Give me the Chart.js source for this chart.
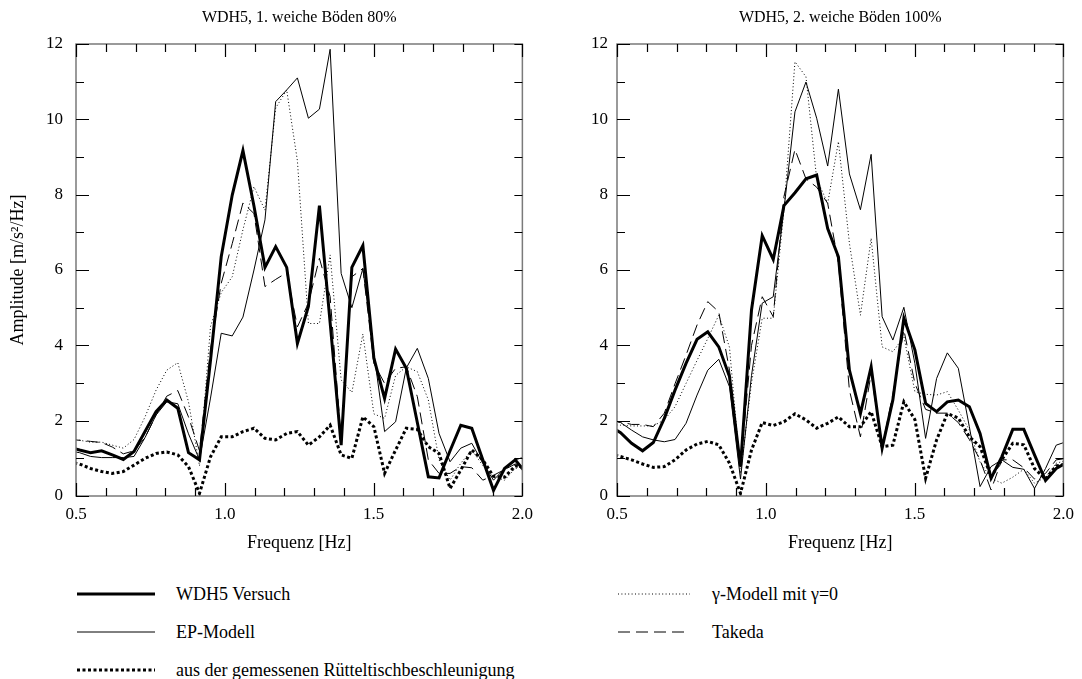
<!DOCTYPE html>
<html lang="de">
<head>
<meta charset="utf-8">
<title>WDH5 Amplitudenspektren</title>
<script src="https://cdn.jsdelivr.net/npm/chart.js@4.4.1/dist/chart.umd.min.js"></script>
<style>
  html, body { margin: 0; padding: 0; background: #fff; }
  body { width: 1082px; height: 679px; position: relative; overflow: hidden;
         font-family: 'Liberation Serif', 'DejaVu Serif', serif; color: #000; }
  canvas { position: absolute; top: 0; }
  #chartLeft { left: 0; }
  #chartRight { left: 541px; }
  .key { position: absolute; height: 20px; display: flex; align-items: center; font-size: 18px; white-space: nowrap; }
  .key svg { display: block; }
</style>
</head>
<body>
<canvas id="chartLeft" width="541" height="556"></canvas>
<canvas id="chartRight" width="541" height="556"></canvas>
<div id="legend"></div>
<script>
// Frequency bins [Hz] of the spectra
const freq = [0.476, 0.512, 0.549, 0.586, 0.622, 0.659, 0.695, 0.732, 0.769, 0.805,
  0.842, 0.878, 0.915, 0.952, 0.988, 1.025, 1.061, 1.098, 1.135, 1.171,
  1.208, 1.244, 1.281, 1.318, 1.354, 1.391, 1.427, 1.464, 1.501, 1.537,
  1.574, 1.610, 1.647, 1.684, 1.720, 1.757, 1.793, 1.830, 1.867, 1.903,
  1.940, 1.976, 2.013];

// 1. weiche Böden 80%
const versuch80 = [1.30, 1.22, 1.15, 1.20, 1.09, 0.97, 1.18, 1.71, 2.24, 2.55,
  2.33, 1.15, 0.96, 3.60, 6.35, 7.99, 9.17, 7.70, 6.07, 6.62,
  6.07, 4.05, 5.03, 7.71, 4.60, 1.35, 6.07, 6.65, 3.66, 2.59,
  3.90, 3.39, 1.95, 0.51, 0.48, 1.20, 1.88, 1.80, 0.96, 0.15,
  0.73, 0.96, 0.60];
const ep80 = [1.20, 1.15, 1.05, 1.02, 1.02, 1.02, 1.05, 1.55, 2.15, 2.50,
  2.45, 1.65, 0.96, 2.60, 4.32, 4.25, 4.75, 6.00, 7.33, 10.47,
  10.78, 11.10, 10.03, 10.27, 11.86, 5.91, 5.00, 6.04, 3.80, 1.71,
  1.97, 3.40, 3.92, 3.12, 1.66, 0.91, 1.27, 1.40, 0.87, 0.42,
  0.73, 0.96, 1.05];
const gamma80 = [1.52, 1.48, 1.43, 1.43, 1.35, 1.27, 1.50, 2.10, 2.81, 3.34,
  3.54, 2.50, 0.80, 4.50, 5.40, 5.82, 7.07, 8.21, 7.59, 10.30,
  10.78, 8.90, 4.58, 4.58, 6.40, 3.08, 2.75, 4.30, 2.18, 2.06,
  3.20, 3.43, 3.30, 2.55, 0.96, 0.42, 0.87, 1.22, 0.81, 0.52,
  0.42, 0.73, 0.80];
const takeda80 = [1.50, 1.48, 1.45, 1.42, 1.30, 1.12, 1.20, 1.55, 2.15, 2.65,
  2.80, 2.10, 1.20, 3.90, 5.65, 6.70, 7.78, 7.50, 5.56, 5.75,
  5.93, 4.49, 5.12, 6.31, 5.29, 1.49, 5.82, 6.04, 3.52, 2.99,
  3.39, 3.43, 2.64, 0.96, 0.60, 0.60, 0.78, 0.75, 0.42, 0.55,
  0.70, 0.85, 0.80];
const tisch80 = [0.90, 0.85, 0.73, 0.65, 0.60, 0.65, 0.82, 1.00, 1.13, 1.17,
  1.09, 0.78, 0.07, 1.04, 1.57, 1.57, 1.71, 1.80, 1.53, 1.49,
  1.66, 1.71, 1.35, 1.57, 1.88, 1.09, 1.00, 2.10, 1.84, 0.60,
  1.22, 1.80, 1.77, 1.31, 1.13, 0.20, 0.69, 1.22, 0.96, 0.52,
  0.50, 0.80, 0.75];

// 2. weiche Böden 100%
const versuch100 = [1.85, 1.68, 1.40, 1.20, 1.42, 2.06, 2.81, 3.52, 4.16, 4.36,
  3.96, 3.17, 0.78, 4.94, 6.91, 6.28, 7.71, 8.05, 8.42, 8.52,
  7.10, 6.35, 3.34, 2.19, 3.43, 1.27, 2.55, 4.72, 3.88, 2.46,
  2.24, 2.50, 2.55, 2.37, 1.66, 0.47, 1.04, 1.77, 1.77, 1.09,
  0.41, 0.73, 0.90];
const ep100 = [2.00, 1.95, 1.75, 1.57, 1.49, 1.44, 1.50, 1.93, 2.68, 3.34,
  3.63, 2.90, 0.45, 3.20, 5.12, 5.29, 7.60, 10.20, 10.99, 10.03,
  8.76, 10.80, 8.55, 7.60, 9.07, 4.76, 4.14, 5.01, 3.52, 1.53,
  3.12, 3.80, 3.39, 1.84, 0.25, 0.78, 0.96, 0.76, 0.71, 0.20,
  0.73, 1.35, 1.45];
const gamma100 = [1.90, 1.88, 1.86, 1.86, 1.86, 2.02, 2.37, 2.99, 3.60, 4.18,
  4.80, 3.95, 0.60, 3.00, 4.72, 4.72, 7.59, 11.53, 11.13, 8.42,
  7.77, 9.41, 6.71, 4.80, 6.84, 3.96, 3.83, 4.23, 2.77, 2.70,
  2.68, 2.77, 2.28, 1.75, 0.90, 0.47, 0.34, 0.50, 0.71, 0.34,
  0.50, 0.87, 0.95];
const takeda100 = [2.00, 1.97, 1.90, 1.90, 1.84, 2.20, 2.98, 3.74, 4.54, 5.16,
  4.89, 3.34, 0.78, 4.00, 5.29, 4.76, 7.95, 9.20, 8.42, 8.20,
  7.77, 6.18, 2.81, 1.57, 3.25, 1.30, 2.70, 4.41, 2.99, 2.30,
  2.20, 2.20, 1.95, 1.50, 0.96, 0.16, 0.96, 0.96, 0.75, 0.45,
  0.60, 0.96, 1.00];
const tisch100 = [1.12, 1.05, 0.96, 0.85, 0.76, 0.78, 0.96, 1.22, 1.38, 1.45,
  1.36, 0.87, 0.07, 1.22, 1.95, 1.87, 1.97, 2.18, 2.02, 1.80,
  1.93, 2.10, 1.84, 1.84, 2.24, 1.31, 1.35, 2.50, 2.03, 0.47,
  1.49, 2.19, 2.07, 1.57, 1.31, 0.51, 0.96, 1.40, 1.36, 0.73,
  0.45, 0.80, 0.85];

// axis ticks
const xLabelTicks = [0.5, 1.0, 1.5, 2.0];
const xTickMarks = [0.5, 0.6, 0.7, 0.8, 0.9, 1.0, 1.1, 1.2, 1.3, 1.4, 1.5, 1.6, 1.7, 1.8, 1.9, 2.0];
const yTickMarks = [0, 1, 2, 3, 4, 5, 6, 7, 8, 9, 10, 11, 12];

const serif = "'Liberation Serif', 'DejaVu Serif', serif";

const styles = {
  versuch: { label: 'WDH5 Versuch', width: 3, dash: [] },
  ep: { label: 'EP-Modell', width: 1, dash: [] },
  tisch: { label: 'aus der gemessenen Rütteltischbeschleunigung', width: 3, dash: [3, 2.5] },
  gamma: { label: 'γ-Modell mit γ=0', width: 1, dash: [1, 2.4] },
  takeda: { label: 'Takeda', width: 1, dash: [12, 6] },
};

// box with inward ticks on all four sides
const frameTicks = {
  id: 'frameTicks',
  afterDraw(chart) {
    const { ctx, chartArea: a, scales: { x, y } } = chart;
    ctx.save();
    ctx.lineWidth = 1.5;
    ctx.strokeStyle = '#7a7a7a';
    ctx.strokeRect(a.left, a.top, a.right - a.left, a.bottom - a.top);
    ctx.lineWidth = 1.2;
    ctx.strokeStyle = '#000';
    ctx.beginPath();
    xTickMarks.forEach((v) => {
      const px = Math.round(x.getPixelForValue(v)) + 0.5;
      const len = xLabelTicks.includes(v) ? 13 : 8;
      ctx.moveTo(px, a.top);
      ctx.lineTo(px, a.top + len);
      ctx.moveTo(px, a.bottom);
      ctx.lineTo(px, a.bottom - len);
    });
    yTickMarks.forEach((v) => {
      const py = Math.round(y.getPixelForValue(v)) + 0.5;
      const len = v % 2 === 0 ? 13 : 8;
      ctx.moveTo(a.left, py);
      ctx.lineTo(a.left + len, py);
      ctx.moveTo(a.right, py);
      ctx.lineTo(a.right - 8, py);
    });
    ctx.stroke();
    ctx.restore();
  },
};

function toPoints(values) {
  return freq.map((f, i) => ({ x: f, y: values[i] }));
}

function makeDataset(key, values) {
  const s = styles[key];
  return {
    label: s.label,
    data: toPoints(values),
    borderColor: '#000',
    borderWidth: s.width,
    borderDash: s.dash,
    borderCapStyle: 'butt',
    borderJoinStyle: 'miter',
    pointRadius: 0,
    tension: 0,
    fill: false,
  };
}

function renderPanel(canvasId, title, sets, showYTitle, yTickPad) {
  const ctx = document.getElementById(canvasId).getContext('2d');
  return new Chart(ctx, {
    type: 'line',
    data: {
      datasets: [
        makeDataset('versuch', sets.versuch),
        makeDataset('ep', sets.ep),
        makeDataset('gamma', sets.gamma),
        makeDataset('takeda', sets.takeda),
        makeDataset('tisch', sets.tisch),
      ],
    },
    options: {
      responsive: false,
      animation: false,
      events: [],
      devicePixelRatio: 1,
      layout: { padding: { top: 0, right: 11, bottom: 0, left: 0 } },
      plugins: {
        legend: { display: false },
        tooltip: { enabled: false },
        title: {
          display: true,
          text: title,
          fullSize: false,
          color: '#000',
          font: { family: serif, size: 16, weight: 'normal' },
          padding: { top: 8.4, bottom: 16.4 },
        },
      },
      scales: {
        x: {
          type: 'linear',
          min: 0.5,
          max: 2.0,
          grid: { display: false, drawTicks: false },
          border: { display: false },
          ticks: {
            stepSize: 0.5,
            autoSkip: false,
            maxRotation: 0,
            padding: 8,
            color: '#000',
            font: { family: serif, size: 17 },
            callback: (v) => Number(v).toFixed(1),
          },
          title: {
            display: true,
            text: 'Frequenz [Hz]',
            color: '#000',
            font: { family: serif, size: 18 },
            padding: { top: 0, bottom: 2 },
          },
          afterFit: (scale) => { scale.height = 60; },
        },
        y: {
          min: 0,
          max: 12,
          grid: { display: false, drawTicks: false },
          border: { display: false },
          ticks: {
            stepSize: 2,
            padding: yTickPad,
            color: '#000',
            font: { family: serif, size: 17 },
          },
          title: {
            display: showYTitle,
            text: 'Amplitude [m/s²/Hz]',
            color: '#000',
            font: { family: serif, size: 18 },
            padding: { top: 7, bottom: 0 },
          },
          afterFit: (scale) => { scale.width = 76; },
        },
      },
    },
    plugins: [frameTicks],
  });
}

function lineSample(style, length) {
  const ns = 'http://www.w3.org/2000/svg';
  const svg = document.createElementNS(ns, 'svg');
  svg.setAttribute('width', length);
  svg.setAttribute('height', 6);
  const line = document.createElementNS(ns, 'line');
  line.setAttribute('x1', 0);
  line.setAttribute('x2', length);
  line.setAttribute('y1', 3);
  line.setAttribute('y2', 3);
  line.setAttribute('stroke', '#000');
  line.setAttribute('stroke-width', style.width);
  if (style.dash.length) line.setAttribute('stroke-dasharray', style.dash.join(' '));
  svg.appendChild(line);
  return svg;
}

function buildLegend() {
  const legend = document.getElementById('legend');
  const columns = [
    { left: 77, sample: 78, gap: 21, keys: ['versuch', 'ep', 'tisch'] },
    { left: 618, sample: 72, gap: 22, keys: ['gamma', 'takeda'] },
  ];
  columns.forEach((col) => {
    col.keys.forEach((key, row) => {
      const item = document.createElement('div');
      item.className = 'key';
      item.style.left = col.left + 'px';
      item.style.top = (584 + row * 38) + 'px';
      const svg = lineSample(styles[key], col.sample);
      svg.style.marginRight = col.gap + 'px';
      const text = document.createElement('span');
      text.textContent = styles[key].label;
      item.appendChild(svg);
      item.appendChild(text);
      legend.appendChild(item);
    });
  });
}

renderPanel('chartLeft', 'WDH5, 1. weiche Böden 80%', {
  versuch: versuch80, ep: ep80, gamma: gamma80, takeda: takeda80, tisch: tisch80,
}, true, 13);

renderPanel('chartRight', 'WDH5, 2. weiche Böden 100%', {
  versuch: versuch100, ep: ep100, gamma: gamma100, takeda: takeda100, tisch: tisch100,
}, false, 9);

buildLegend();
</script>
</body>
</html>
